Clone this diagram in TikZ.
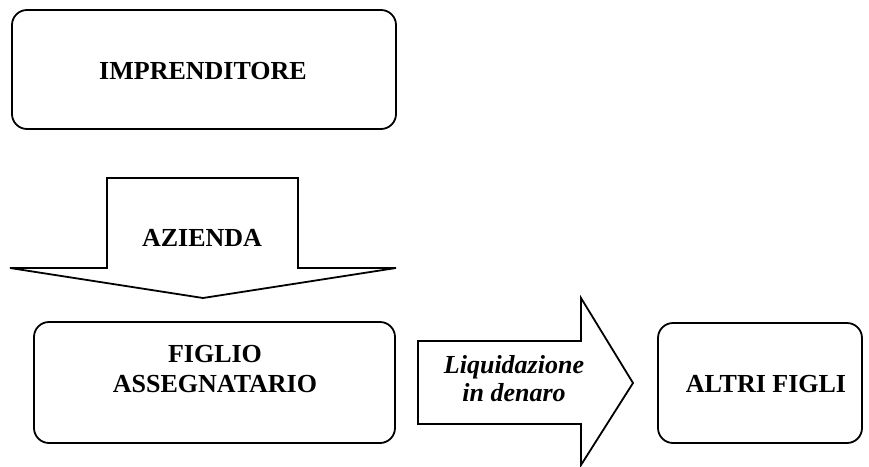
\documentclass[tikz,border=0pt]{standalone}
\usepackage{fontspec}
\setmainfont{Liberation Serif}
\tikzset{
  lbl/.style={inner sep=0.75pt, align=center, font=\fontsize{26}{30}\selectfont\bfseries},
  ilbl/.style={lbl, font=\fontsize{26}{28}\selectfont\bfseries\itshape}
}
\begin{document}
\begin{tikzpicture}[x=1pt,y=1pt,yscale=-1,xscale=1,line width=1.8pt]
\useasboundingbox (0,0) rectangle (869,466);

%Shape: Rounded Rect [imprenditore]
\draw [rounded corners=15] (12,10) rectangle (396,129) ;
%Shape: Down Arrow [azienda]
\draw (107,178) -- (298,178) -- (298,268) -- (396,268) -- (203,298) -- (10,268) -- (107,268) -- cycle ;
%Shape: Rounded Rect [figlio]
\draw [rounded corners=15] (34,322) rectangle (395,443) ;
%Shape: Right Arrow [liquidazione]
\draw (418,341) -- (581,341) -- (581,298) -- (633,383) -- (581,465) -- (581,424) -- (418,424) -- cycle ;
%Shape: Rounded Rect [altri figli]
\draw [rounded corners=15] (658,323) rectangle (862,443) ;

% Text Node
\node [lbl] (imprenditore) at (203,71) {IMPRENDITORE};
% Text Node
\node [lbl] (azienda) at (202,238) {AZIENDA};
% Text Node
\node [lbl] (figlio) at (215,369) {FIGLIO\\ASSEGNATARIO};
% Text Node
\node [ilbl] (liquidazione) at (514,379) {Liquidazione\\in denaro};
% Text Node
\node [lbl] (altri) at (766,384) {ALTRI FIGLI};
\end{tikzpicture}
\end{document}
